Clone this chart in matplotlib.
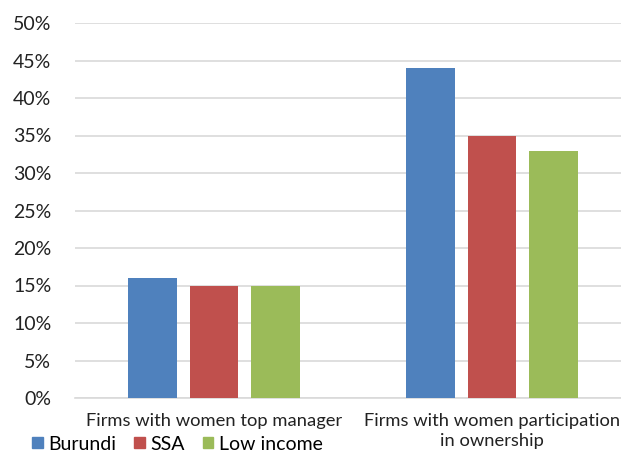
import matplotlib
matplotlib.use("Agg")
import matplotlib.pyplot as plt
import numpy as np
from matplotlib.patches import Patch

categories = ["Firms with women top manager", "Firms with women participation\nin ownership"]
series = ["Burundi", "SSA", "Low income"]
burundi = [16, 44]
ssa = [15, 35]
low_income = [15, 33]
yticks = [0, 5, 10, 15, 20, 25, 30, 35, 40, 45, 50]
colors = ["#4F81BD", "#C0504D", "#9BBB59"]

plt.rcParams['font.family'] = ['Lato', 'DejaVu Sans']

W, H = 621, 454
fig = plt.figure(figsize=(W/100, H/100), dpi=100)
left, right, bottom, top = 75, 631, H-398, H-23
ax = fig.add_axes([left/W, bottom/H, (right-left)/W, (top-bottom)/H])

x = np.arange(len(categories))
bw = 0.176
off = 0.221
for i, (vals, c, name) in enumerate(zip([burundi, ssa, low_income], colors, series)):
    ax.bar(x + (i-1)*off, vals, width=bw, color=c, label=name, zorder=3)

ax.set_xlim(-0.5, 1.5)
ax.set_ylim(0, 50)
ax.set_yticks(yticks)
ax.set_yticklabels([f"{v}%" for v in yticks], fontsize=14, color="#222222")
ax.set_xticks(x)
ax.set_xticklabels(categories, fontsize=13.2, color="#222222", linespacing=1.3)
ax.tick_params(axis='both', length=0)
ax.tick_params(axis='y', pad=17)
ax.tick_params(axis='x', pad=11)
ax.grid(axis='y', color="#D9D9D9", linewidth=1.2, zorder=0)
for s in ['top', 'right', 'left']:
    ax.spines[s].set_visible(False)
ax.spines['bottom'].set_color("#D9D9D9")
ax.spines['bottom'].set_linewidth(1.2)

handles = [Patch(color=c) for c in colors]
fig.legend(handles, series, loc='center left', bbox_to_anchor=(32/W, 1-444/H),
           ncol=3, frameon=False, fontsize=14, handlelength=0.55, handleheight=0.55,
           handletextpad=0.3, columnspacing=0.9, borderaxespad=0, borderpad=0)

fig.savefig("out.png", dpi=100)
